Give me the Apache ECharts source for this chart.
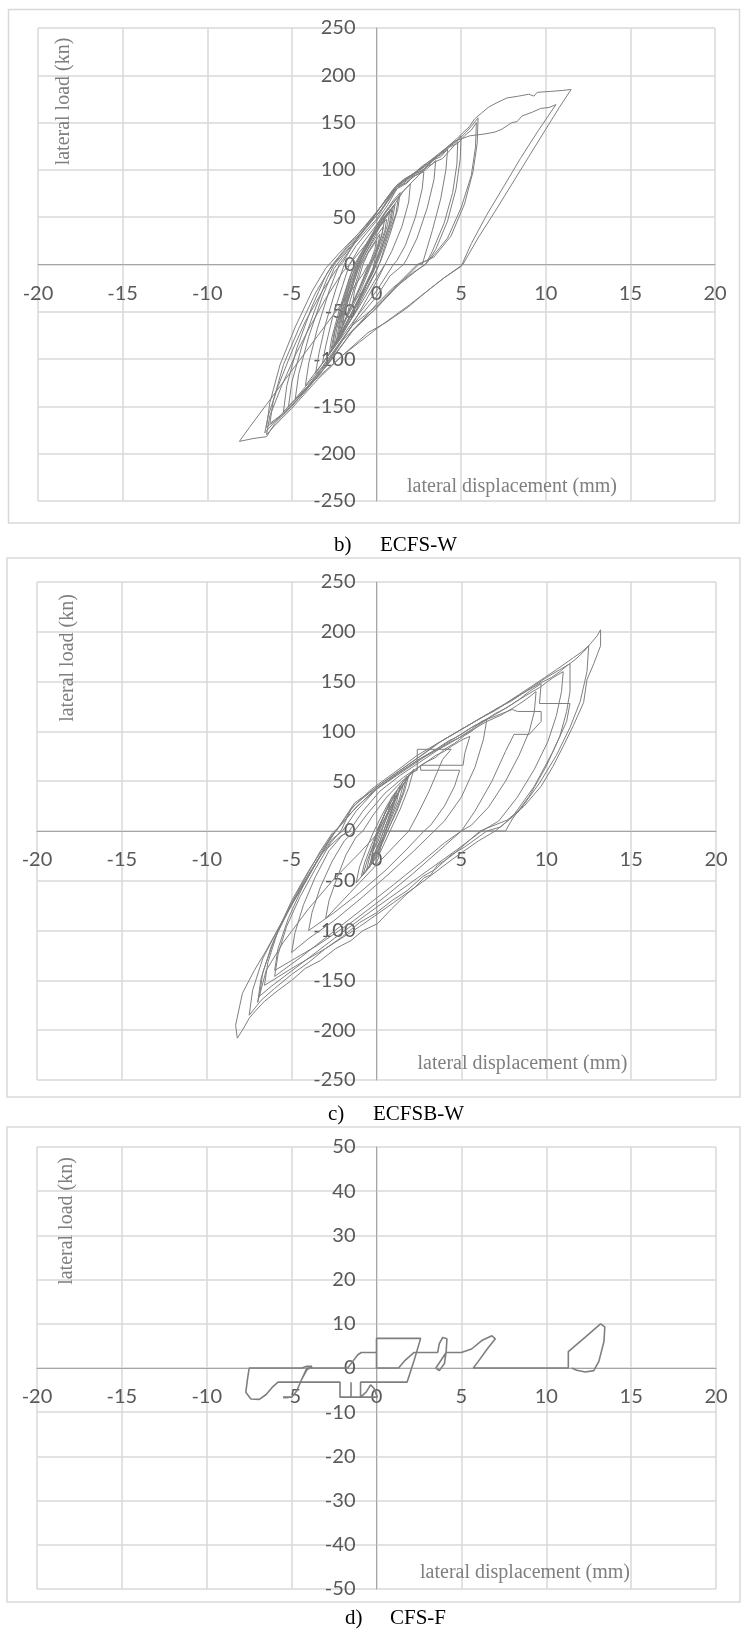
<!DOCTYPE html>
<html><head><meta charset="utf-8">
<script src="https://cdn.jsdelivr.net/npm/echarts@6/dist/echarts.min.js"></script>
<style>html,body{margin:0;padding:0;background:#fff}#c{width:743px;height:1630px}</style>
</head><body><div id="c"></div>
<script>
// ---------- tick settings ----------
const dispTicks = [-20, 20, 5];          // lateral displacement (mm): min, max, step
const loadTicksW = [-250, 250, 50];      // lateral load (kn) for ECFS-W and ECFSB-W
const loadTicksF = [-50, 50, 10];        // lateral load (kn) for CFS-F
const captions = [['b)', 'ECFS-W'], ['c)', 'ECFSB-W'], ['d)', 'CFS-F']];
const yName = 'lateral load (kn)';
const xName = 'lateral displacement (mm)';

// ---------- b) ECFS-W : [displacement mm, load kn] ----------
const ecfsW_core = [
[0,0],[-0.3,-12],[-0.8,-28],[-1.4,-40],[-1.3,-28],[-1.0,-12],[-0.8,0],[-0.5,12],[0.0,25],[-0.1,16],[-0.3,6],[-0.5,-2],
[-1.0,-24],[-1.4,-40],[-1.7,-52],[-1.55,-38],[-1.2,-18],[-0.9,0],[-0.4,16],[0.2,32],[0.1,22],[-0.2,8],[-0.5,-4],
[-1.1,-30],[-1.6,-48],[-2.0,-64],[-1.85,-48],[-1.4,-22],[-1.0,0],[-0.5,16],[0.0,30],[0.4,40],[0.3,30],[0.0,14],[-0.4,-2],
[-1.0,-26],[-1.7,-52],[-2.2,-74],[-2.05,-58],[-1.6,-30],[-1.2,-6],[-0.9,8],[-0.3,28],[0.2,40],[0.6,48],[0.5,36],[0.1,16],[-0.3,0],
[-1.0,-30],[-1.8,-58],[-2.5,-85],[-2.35,-68],[-1.9,-40],[-1.4,-10],[-1.1,4],[-0.5,24],[0.2,45],[1.0,62],[0.85,46],[0.4,22],[0.0,2],[-0.2,-8],
[-1.2,-42],[-2.0,-70],[-2.8,-95],[-2.65,-78],[-2.2,-48],[-1.6,-14],[-1.3,0],[-0.6,22],[0.3,50],[1.0,68],[1.4,76],[1.25,58],[0.8,32],[0.3,6],[0.0,-6],
[-1.0,-38],[-1.9,-68],[-2.7,-92],[-2.5,-72],[-2.0,-40],[-1.5,-10],[-1.2,2],[-0.4,26],[0.5,54],[1.3,72],[1.15,54],[0.6,26],[0.2,2],[-0.1,-10],
[-1.3,-52],[-2.4,-84],[-2.2,-62],[-1.7,-30],[-1.2,-4],[-0.8,10],[0.0,36],[0.8,58],[0.65,42],[0.2,16],[-0.2,-4],
[-0.9,-30],[-1.6,-56],[-2.3,-80],[-2.15,-62],[-1.7,-34],[-1.2,-8],[-0.9,6],[-0.2,30],[0.4,46],[0.9,58],[0.75,42],[0.3,18],[-0.1,0],[-0.3,-10],
[-1.1,-40],[-1.9,-66],[-2.6,-88],[-2.45,-70],[-2.0,-42],[-1.5,-14],[-1.1,2],[-0.4,24],[0.3,46],[1.1,64],[0.95,48],[0.5,24],[0.1,4],[-0.2,-6],
[-0.8,-28],[-1.5,-52],[-2.1,-72],[-1.95,-54],[-1.5,-28],[-1.1,-6],[-0.7,10],[-0.1,30],[0.5,50],[0.35,34],[0.0,14],[-0.2,-4]
];
const ecfsW_mid = [
[-1.2,-48],[-2.2,-80],[-3.2,-105],[-3.0,-86],[-2.6,-56],[-2.0,-22],[-1.6,0],[-1.0,18],[0.0,42],[1.0,66],[1.6,78],[2.0,85],[1.9,66],[1.5,40],[0.9,14],[0.5,0],[0.0,-14],
[-1.0,-44],[-2.4,-84],[-3.6,-115],[-3.4,-94],[-3.0,-62],[-2.4,-26],[-1.9,0],[-1.2,20],[0.0,46],[0.7,64],[1.2,80],[1.6,86],[2.0,92],[2.4,95],[2.8,98],[2.7,80],[2.3,50],[1.7,20],[1.2,4],[1.0,0],[0.0,-28],
[-1.2,-56],[-2.8,-95],[-4.2,-128],[-4.0,-104],[-3.5,-68],[-2.8,-28],[-2.2,0],[-1.3,22],[0.0,48],[0.6,66],[1.2,82],[1.8,90],[2.3,96],[2.7,99],[3.0,104],[3.3,106],[3.5,110],[3.4,90],[3.0,60],[2.4,28],[1.8,6],[1.6,0],[0.8,-12],[0.0,-34],
[-1.5,-66],[-3.2,-108],[-4.8,-142],[-4.6,-116],[-4.0,-76],[-3.2,-34],[-2.5,-4],[-2.0,8],[-1.0,30],[0.2,56],[0.8,72],[1.3,84],[1.9,92],[2.4,98],[2.9,104],[3.4,112],[3.8,116],[4.2,122],[4.1,100],[3.8,70],[3.3,36],[2.8,6],[2.7,0],[1.5,0],[0.5,0],[0.0,-18],[-0.5,-34],
[-1.5,-66],[-3.0,-106],[-4.5,-138],[-5.5,-156],[-5.3,-128],[-4.7,-88],[-3.8,-44],[-3.0,-12],[-2.6,0],[-1.6,22],[-0.2,50],[1.0,80],[1.6,90],[2.2,96],[2.7,104],[3.2,110],[3.7,116],[4.2,124],[4.6,128],[5.0,136],[4.95,112],[4.7,80],[4.2,46],[3.5,16],[3.0,2],[2.4,-6],[1.0,-26],[0.0,-44],
[-1.4,-64],[-2.8,-100],[-4.2,-132],[-5.2,-150],[-5.0,-124],[-4.4,-86],[-3.6,-46],[-2.9,-14],[-2.5,0],[-1.5,20],[-0.4,44],[0.6,70],[1.2,82],[1.7,86],[2.3,94],[2.9,100],[3.4,108],[3.9,112],[4.4,122],[4.8,130],[4.75,106],[4.5,76],[4.0,44],[3.3,14],[2.9,0],[2.2,-8],[1.0,-24],[0.0,-42],
[-1.5,-72],[-3.0,-108],[-4.5,-140],[-5.6,-160],[-6.5,-172],[-6.3,-146],[-5.7,-106],[-4.8,-66],[-3.8,-28],[-3.0,-4],[-2.2,12],[-1.0,34],[0.3,62],[1.4,86],[2.0,94],[2.5,100],[3.0,106],[3.5,113],[4.0,120],[4.5,128],[4.9,133],[5.3,140],[5.6,146],[6.0,155],[5.95,128],[5.7,98],[5.2,64],[4.4,30],[3.4,8],[2.5,0],[1.5,-18],[0.0,-46],
[-1.4,-70],[-2.8,-104],[-4.2,-134],[-5.4,-156],[-6.3,-168],[-6.1,-144],[-5.5,-106],[-4.6,-68],[-3.6,-30],[-2.8,-6],[-2.1,10],[-0.8,36],[0.4,60],[1.2,80],[1.8,86],[2.3,96],[2.9,102],[3.3,110],[3.8,114],[4.3,124],[4.8,128],[5.2,136],[5.6,142],[5.9,150],[5.85,124],[5.6,94],[5.0,60],[4.2,28],[3.2,6],[2.4,0],[1.4,-18],[0.0,-46]
];
const ecfsW_large = [
[-1.0,-62],[-2.0,-80],[-3.0,-108],[-4.0,-128],[-5.0,-146],[-5.8,-162],[-6.6,-178],
[-6.4,-160],[-5.8,-128],[-5.0,-92],[-4.2,-60],[-3.2,-28],[-2.4,-6],[-2.0,2],[-1.2,26],[0.0,55],[1.2,84],[2.5,100],[3.6,116],[4.6,130],[5.5,136],[6.4,138],[7.0,140],[7.4,143],[8.0,150],[8.3,151],[8.6,157],[9.2,161],[9.7,165],[10.2,166],[10.6,169],
[9.5,140],[8.5,112],[7.5,82],[6.5,52],[5.6,22],[5.0,-2],[4.0,-14],[3.0,-28],[1.8,-46],[0.5,-62],[-0.5,-72],[-2.0,-96],[-3.5,-122],[-5.0,-152],[-6.0,-170],[-6.5,-180],
[-6.3,-160],[-5.6,-128],[-4.8,-96],[-4.0,-68],[-3.0,-36],[-2.0,-8],[-1.6,0],[-0.6,22],[0.5,48],[1.6,78],[2.8,100],[3.8,118],[4.8,134],[5.5,146],[5.8,154],[6.2,160],[6.6,166],[7.0,170],[7.7,176],[8.4,178],[9.0,180],[9.3,178],[9.5,182],[10.3,183],[11.0,184],[11.5,185],
[10.8,166],[10.0,143],[9.0,114],[8.0,85],[7.0,56],[6.0,28],[5.1,0],[4.0,-14],[3.0,-28],[2.0,-42],[1.0,-55],[0.0,-68],[-1.0,-82],[-2.0,-96],[-3.0,-112],[-4.0,-128],[-5.0,-150],[-6.0,-168],[-6.5,-182],[-7.3,-184],[-8.1,-187],
[-7.5,-172],[-6.5,-148],[-5.5,-124],[-4.5,-100],[-3.5,-76],[-2.5,-52],[-1.5,-28],[-0.8,-10],[-0.5,0]
];

// ---------- c) ECFSB-W ----------
const ecfsbW_core = [
[0,0],[0.4,14],[0.8,28],[0.65,16],[0.35,2],[0.1,-10],[-0.2,-20],[-0.1,-8],[0.15,4],[0.5,18],[1.1,36],[0.9,22],[0.55,6],[0.2,-10],[-0.1,-22],[-0.3,-28],[-0.15,-14],[0.1,0],[0.5,18],[1.0,34],[1.4,46],[1.2,30],[0.8,12],[0.4,-6],[0.0,-24],[-0.05,-33],[0.1,-28],[0.3,-12],[0.6,4],[1.1,30],[1.5,48],[1.8,55],[1.55,38],[1.1,18],[0.6,-2],[0.1,-22],[-0.3,-33],[-0.6,-40],[-0.4,-26],[-0.1,-10],[0.3,6],[0.8,24],[1.4,42],[2.2,62],[1.9,44],[1.4,22],[0.8,0],[0.2,-22],[-0.5,-38],[-1.2,-52],[-1.0,-36],[-0.6,-18],[-0.2,-2],[0.2,12],
[0.7,28],[1.2,40],[1.0,26],[0.6,8],[0.2,-10],[-0.2,-26],[-0.4,-34],[-0.2,-20],[0.1,-6],[0.5,10],[1.0,28],[1.6,48],[1.35,32],[0.9,14],[0.45,-4],[0.0,-20],[-0.4,-36],[-0.8,-44],[-0.55,-30],[-0.2,-14],[0.2,2],[0.6,16],[1.2,36],[1.9,56],[1.65,40],[1.2,20],[0.7,2],[0.2,-16],[-0.3,-32],[-0.9,-46],[-0.7,-32],[-0.3,-14],[0.0,-2],[0.4,14]
];
const ecfsbW_mid = [
[0.9,34],[1.6,50],[2.0,58],[2.4,61],[2.4,82],[4.4,82],[3.9,72],[3.6,60],[3.1,40],[2.4,16],[1.9,0],[1.0,-16],[0.0,-34],[-1.0,-52],[-2.0,-70],[-3.0,-88],[-2.8,-70],[-2.3,-46],[-1.8,-24],[-1.2,-6],[-0.8,0],
[-0.2,16],[0.6,34],[1.5,50],[2.5,64],[3.5,76],[4.0,80],[4.5,86],[5.1,92],[5.5,95],[5.2,78],[5.1,66],[2.6,66],[2.6,61],[4.9,61],[4.6,45],[4.0,25],[3.2,6],[2.8,0],[1.8,-18],[0.5,-40],[-1.0,-62],[-2.5,-82],[-4.0,-100],[-3.8,-82],[-3.3,-56],[-2.6,-30],[-1.9,-10],[-1.3,0],
[-0.5,18],[0.5,38],[1.6,54],[2.8,68],[3.5,74],[4.0,82],[4.6,88],[5.2,96],[5.6,100],[6.0,106],[6.5,112],[6.3,92],[5.8,64],[5.0,34],[4.0,10],[3.4,0],[2.2,-20],[0.8,-42],[-0.8,-66],[-2.5,-90],[-4.0,-108],[-5.0,-122],[-4.8,-102],[-4.3,-74],[-3.6,-46],[-2.8,-20],[-2.0,-4],[-1.6,0],
[-0.8,20],[0.2,40],[1.4,56],[2.8,72],[3.5,80],[4.2,88],[4.9,94],[5.6,102],[6.2,110],[6.8,114],[7.4,118],[8.0,122],[8.3,120],[9.7,120],[9.7,110],[9.0,97],[8.1,97],[7.6,80],[6.8,50],[5.8,20],[5.0,0],[3.8,-18],[2.2,-42],[0.5,-66],[-1.5,-92],[-3.5,-115],[-5.0,-130],[-6.0,-140],[-5.8,-118],[-5.2,-88],[-4.4,-58],[-3.5,-30],[-2.6,-8],[-2.0,0]
];
const ecfsbW_large = [
[-1.2,20],[0,42],[1.3,58],[2.7,74],[3.5,82],[4.2,90],[4.9,96],[5.6,104],[6.3,110],[7.0,118],[7.7,124],[8.4,132],[9.0,140],[9.7,148],[9.6,128],[11.4,128],[11.2,110],[10.4,80],[9.3,45],[8.0,14],[7.0,0],[6.0,-10],[4.5,-28],[2.8,-50],[1.0,-72],[-1.0,-96],[-3.0,-118],[-5.0,-138],[-6.6,-155],[-6.4,-132],[-5.8,-100],[-5.0,-70],[-4.0,-40],[-3.0,-14],[-2.4,0],
[-1.4,20],[-0.2,40],[1.1,56],[2.5,72],[3.4,80],[4.1,86],[4.9,94],[5.7,102],[6.5,110],[7.3,116],[8.1,124],[8.8,132],[9.4,140],[9.3,120],[9.0,100],[8.4,76],[7.6,50],[6.6,24],[5.6,6],[5.0,0],[4.0,-12],[2.6,-32],[1.0,-54],[-0.8,-78],[-2.6,-102],[-4.4,-126],[-6.0,-146],[-5.8,-124],[-5.3,-96],[-4.5,-66],[-3.6,-38],[-2.7,-12],[-2.1,0],
[-1.5,22],[-0.3,42],[1,58],[2.4,76],[3.2,84],[4,92],[4.8,100],[5.6,108],[6.4,116],[7.2,124],[7.9,130],[8.6,138],[9.3,146],[10,154],[10.8,162],[11.4,168],[11.4,140],[11.2,120],[10.8,95],[10.0,65],[9.0,35],[8.0,12],[7.6,0],[4.0,0],[0.2,0],[-1,-22],[-2.5,-48],[-4,-78],[-5.5,-112],[-6.5,-140],[-7.0,-172],[-6.8,-148],[-6.2,-116],[-5.3,-82],[-4.3,-50],[-3.3,-20],[-2.6,-2],[-2.2,4],
[-1.2,24],[0,42],[1.4,58],[2.8,74],[4.3,90],[5.8,106],[7.3,120],[8.8,136],[9.6,144],[10.4,154],[11.0,160],[10.9,140],[10.6,116],[10.1,90],[9.3,62],[8.3,34],[7.2,10],[6.2,0],[4.8,-18],[3.0,-40],[1.2,-62],[-0.6,-84],[-2.5,-108],[-4.5,-134],[-6.2,-156],[-6.9,-166],[-6.7,-142],[-6.0,-108],[-5.0,-74],[-4.0,-44],[-3.0,-16],[-2.4,0],
[-1.3,26],[0,44],[1.3,60],[2.8,78],[3.6,88],[4.4,96],[5.2,104],[6,112],[6.8,120],[7.6,128],[8.4,137],[9.2,146],[9.9,154],[10.6,162],[11.1,168],[11.6,174],[12.1,180],[12.5,186],[12.4,160],[12.0,130],[11.4,104],[10.6,76],[9.6,48],[8.4,20],[7.3,4],[6.5,0],[5.2,-16],[4.4,-24],[3.5,-38],[2.7,-46],[1.8,-60],[0.9,-70],[0,-82],[-1,-92],[-2,-106],[-3,-118],[-4,-132],[-5,-144],[-6,-158],[-6.8,-170],[-7.5,-185],[-7.3,-160],[-6.7,-128],[-5.6,-92],[-4.5,-60],[-3.4,-28],[-2.7,-6],[-2.3,2],
[-1.3,28],[0,44],[1.5,62],[3,80],[3.8,90],[4.6,98],[5.4,106],[6.1,113],[7.0,121],[7.8,130],[8.6,138],[9.2,144],[9.7,149],[10.3,154],[10.8,160],[11.3,167],[11.7,172],[12.2,180],[12.6,188],[13.0,196],[13.2,202],[13.2,186],[12.8,168],[12.4,152],[12.2,129],[11.6,106],[11.0,85],[10.4,65],[9.7,45],[8.7,25],[7.7,11],[6.1,0],[4.56,-23],[4.0,-30],[3.6,-34],[3.2,-44],[2.8,-47],[2.3,-56],[1.8,-63],[0.9,-78],[0.06,-93],[-0.8,-100],[-1.5,-110],[-2.4,-118],[-3.3,-130],[-4.2,-138],[-5,-150],[-5.8,-160],[-6.6,-171],[-7.1,-180],[-7.5,-188],[-7.9,-200],[-8.2,-208],[-8.3,-195],[-7.9,-163],[-7.2,-140],[-6.5,-120],[-5.4,-86],[-4.3,-52],[-3.2,-22],[-2.1,-5],[-1.5,0]
];

// ---------- d) CFS-F ----------
const cfsF = [
[0,0],[0,6.7],[2.6,6.7],[2.2,1.5],[1.8,-3.2],
[0.2,-3.2],[-0.94,-3.2],[-0.94,-6.6],[-0.6,-5.4],[-0.35,-3.8],[-0.15,-4.6],[0.05,-6.6],[-0.94,-6.6],
[-1.5,-6.6],[-1.5,-3.2],[-1.5,-6.6],[-2.15,-6.6],[-2.15,-3.2],
[-3.5,-3.2],[-4.4,-3.2],[-5.8,-3.2],[-6.1,-4.2],[-6.5,-6.0],[-6.9,-7.1],[-7.4,-7.0],[-7.7,-5.5],[-7.6,-2.5],[-7.5,0],
[-6.0,0],[-4.4,0],[-4.1,0.4],[-3.8,0.4],[-4.1,-0.4],[-4.4,-2.5],[-4.7,-5.2],[-5.0,-6.6],[-5.5,-6.6],[-5.0,-6.6],[-4.7,-5.2],[-4.4,-2.5],[-4.1,0],
[-1.7,0],[-1.4,1.5],[-1.1,3.0],[-0.9,3.5],[0,3.5],[0,0],
[1.3,0],[1.7,1.8],[2.2,3.5],[3.6,3.5],[3.7,5.5],[3.9,6.9],[4.15,6.6],[4.1,3.5],[4.0,1.0],[3.7,-0.6],[3.5,0],[3.6,0],[4.1,3.5],
[5.0,3.5],[5.6,4.3],[6.2,6.2],[6.8,7.3],[7.0,6.6],[6.5,4.2],[6.0,1.5],[5.7,0],
[11.3,0],[11.3,3.7],[12.3,7.0],[13.2,10],[13.45,9.3],[13.4,6],[13.1,1.5],[12.8,-0.6],[12.3,-0.9],[11.8,-0.5],[11.5,0]
];

// ---------- chart ----------
const gridBoxes = [
  {left: 38, top: 28, width: 677, height: 473},
  {left: 37, top: 582, width: 679, height: 498},
  {left: 37, top: 1147, width: 679, height: 442}
];
const tickFont = 'Lato';
// axes sit at the centre of each grid (0 is the middle of every symmetric range)
function xAx(i) {
  return {type: 'value', gridIndex: i, min: dispTicks[0], max: dispTicks[1], interval: dispTicks[2],
    position: 'bottom', offset: -gridBoxes[i].height / 2,
    axisLine: {onZero: false, lineStyle: {color: '#a6a6a6', width: 1}},
    axisTick: {show: false},
    axisLabel: {color: '#595959', fontSize: 20, fontFamily: tickFont, margin: 19},
    splitLine: {show: true, lineStyle: {color: '#d9d9d9', width: 1.5}}};
}
function yAx(i, t) {
  return {type: 'value', gridIndex: i, min: t[0], max: t[1], interval: t[2],
    position: 'left', offset: -gridBoxes[i].width / 2,
    axisLine: {onZero: false, lineStyle: {color: '#a6a6a6', width: 1}},
    axisTick: {show: false},
    axisLabel: {color: '#595959', fontSize: 20, fontFamily: tickFont, margin: 21},
    splitLine: {show: true, lineStyle: {color: '#d9d9d9', width: 1.5}}};
}
function ser(i, data, w) {
  return {type: 'line', xAxisIndex: i, yAxisIndex: i, data: data, showSymbol: false, symbol: 'none',
    lineStyle: {color: '#7f7f7f', width: w}, animation: false, z: 3};
}
const serif = '"Liberation Serif", "Times New Roman", serif';
function txt(x, y, text, size, color, rot) {
  return {type: 'text', x: x, y: y, rotation: rot || 0, z: 10,
    style: {text: text, font: size + 'px ' + serif, fill: color, align: rot ? 'center' : 'left', verticalAlign: 'middle'}};
}
function ctext(x, y, text, size, color) {
  const t = txt(x, y, text, size, color, 0); t.style.align = 'center'; return t;
}
const borderStyle = {fill: 'none', stroke: '#d9d9d9', lineWidth: 1.5};
const chart = echarts.init(document.getElementById('c'));
chart.setOption({
  backgroundColor: '#ffffff',
  animation: false,
  grid: gridBoxes,
  xAxis: [xAx(0), xAx(1), xAx(2)],
  yAxis: [yAx(0, loadTicksW), yAx(1, loadTicksW), yAx(2, loadTicksF)],
  series: [
    ser(0, ecfsW_core.concat(ecfsW_mid, ecfsW_large), 1),
    ser(1, ecfsbW_core.concat(ecfsbW_mid, ecfsbW_large), 1),
    ser(2, cfsF, 1.6)
  ],
  graphic: [
    {type: 'rect', shape: {x: 8.5, y: 9.5, width: 731, height: 513.5}, style: borderStyle, silent: true},
    {type: 'rect', shape: {x: 7, y: 558, width: 733, height: 539}, style: borderStyle, silent: true},
    {type: 'rect', shape: {x: 7, y: 1127, width: 733, height: 475}, style: borderStyle, silent: true},
    txt(64, 101.5, yName, 20, '#7f7f7f', Math.PI / 2),
    ctext(512, 487, xName, 20, '#7f7f7f'),
    txt(68, 658, yName, 20, '#7f7f7f', Math.PI / 2),
    ctext(522.5, 1064, xName, 20, '#7f7f7f'),
    txt(66.5, 1221, yName, 20, '#7f7f7f', Math.PI / 2),
    ctext(525, 1573, xName, 20, '#7f7f7f'),
    txt(334, 545, captions[0][0], 21, '#000'),
    txt(380, 545, captions[0][1], 21, '#000'),
    txt(328, 1114, captions[1][0], 21, '#000'),
    txt(373, 1114, captions[1][1], 21, '#000'),
    txt(345, 1618, captions[2][0], 21, '#000'),
    txt(390, 1618, captions[2][1], 21, '#000')
  ]
});
</script></body></html>
